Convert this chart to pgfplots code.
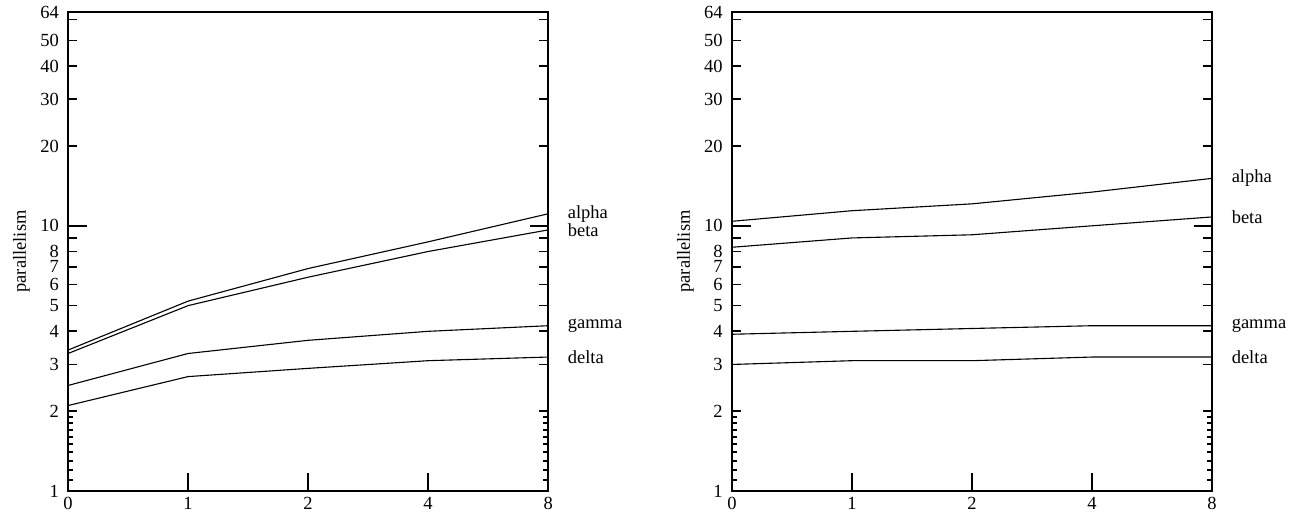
\documentclass[border=0pt]{standalone}
\usepackage{fontspec}
\setmainfont{Liberation Serif}
\usepackage{pgfplots}
\pgfplotsset{compat=1.18}

\begin{document}
\begin{tikzpicture}
\useasboundingbox (0,0) rectangle (701.1pt,281.6pt);

\begin{axis}[
    at={(36.8pt,16.2pt)}, anchor=south west,
    scale only axis, width=259.5pt, height=258.9pt,
    clip=false,
    ymode=log, ymin=1, ymax=64, xmin=0, xmax=4,
    xtick=\empty,
    extra x ticks={0,1,2,3,4},
    extra x tick labels={0,1,2,4,8},
    extra x tick style={major tick length=10pt, tick align=inside},
    ytick={1,2,3,4,5,6,7,8,9,20,30,40,50,60,64},
    yticklabels={1,2,3,4,5,6,7,8,{},20,30,40,50,{},64},
    minor ytick={1.1,1.2,1.3,1.4,1.5,1.6,1.7,1.8,1.9},
    extra y ticks={10},
    extra y tick labels={10},
    extra y tick style={major tick length=10pt, tick align=inside},
    ytick pos=both, xtick pos=left,
    tick align=inside,
    major tick length=5pt,
    minor tick length=2.7pt,
    every tick/.append style={black, line width=0.9pt},
    axis line style={line width=1pt},
    yticklabel style={xshift=-1.5pt},
    ylabel={parallelism},
    ylabel style={at={(axis description cs:-0.097,0.5)}, anchor=center},
  ]
\addplot[black, line width=0.6pt, mark=none] coordinates {(0,3.4) (1,5.2) (2,6.9) (3,8.7) (4,11.1)} node[pos=1,anchor=west,xshift=7pt] {alpha};
\addplot[black, line width=0.6pt, mark=none] coordinates {(0,3.3) (1,5.0) (2,6.4) (3,8.0) (4,9.65)} node[pos=1,anchor=west,xshift=7pt] {beta};
\addplot[black, line width=0.6pt, mark=none] coordinates {(0,2.5) (1,3.3) (2,3.7) (3,4.0) (4,4.2)} node[pos=1,anchor=west,xshift=7pt] {gamma};
\addplot[black, line width=0.6pt, mark=none] coordinates {(0,2.1) (1,2.7) (2,2.9) (3,3.1) (4,3.2)} node[pos=1,anchor=west,xshift=7pt] {delta};
\end{axis}

\begin{axis}[
    at={(395.7pt,16.2pt)}, anchor=south west,
    scale only axis, width=259.5pt, height=258.9pt,
    clip=false,
    ymode=log, ymin=1, ymax=64, xmin=0, xmax=4,
    xtick=\empty,
    extra x ticks={0,1,2,3,4},
    extra x tick labels={0,1,2,4,8},
    extra x tick style={major tick length=10pt, tick align=inside},
    ytick={1,2,3,4,5,6,7,8,9,20,30,40,50,60,64},
    yticklabels={1,2,3,4,5,6,7,8,{},20,30,40,50,{},64},
    minor ytick={1.1,1.2,1.3,1.4,1.5,1.6,1.7,1.8,1.9},
    extra y ticks={10},
    extra y tick labels={10},
    extra y tick style={major tick length=10pt, tick align=inside},
    ytick pos=both, xtick pos=left,
    tick align=inside,
    major tick length=5pt,
    minor tick length=2.7pt,
    every tick/.append style={black, line width=0.9pt},
    axis line style={line width=1pt},
    yticklabel style={xshift=-1.5pt},
    ylabel={parallelism},
    ylabel style={at={(axis description cs:-0.097,0.5)}, anchor=center},
  ]
\addplot[black, line width=0.6pt, mark=none] coordinates {(0,10.4) (1,11.4) (2,12.1) (3,13.4) (4,15.1)} node[pos=1,anchor=west,xshift=7pt] {alpha};
\addplot[black, line width=0.6pt, mark=none] coordinates {(0,8.3) (1,9.0) (2,9.25) (3,10.0) (4,10.8)} node[pos=1,anchor=west,xshift=7pt] {beta};
\addplot[black, line width=0.6pt, mark=none] coordinates {(0,3.9) (1,4.0) (2,4.1) (3,4.2) (4,4.2)} node[pos=1,anchor=west,xshift=7pt] {gamma};
\addplot[black, line width=0.6pt, mark=none] coordinates {(0,3.0) (1,3.1) (2,3.1) (3,3.2) (4,3.2)} node[pos=1,anchor=west,xshift=7pt] {delta};
\end{axis}
\end{tikzpicture}
\end{document}
